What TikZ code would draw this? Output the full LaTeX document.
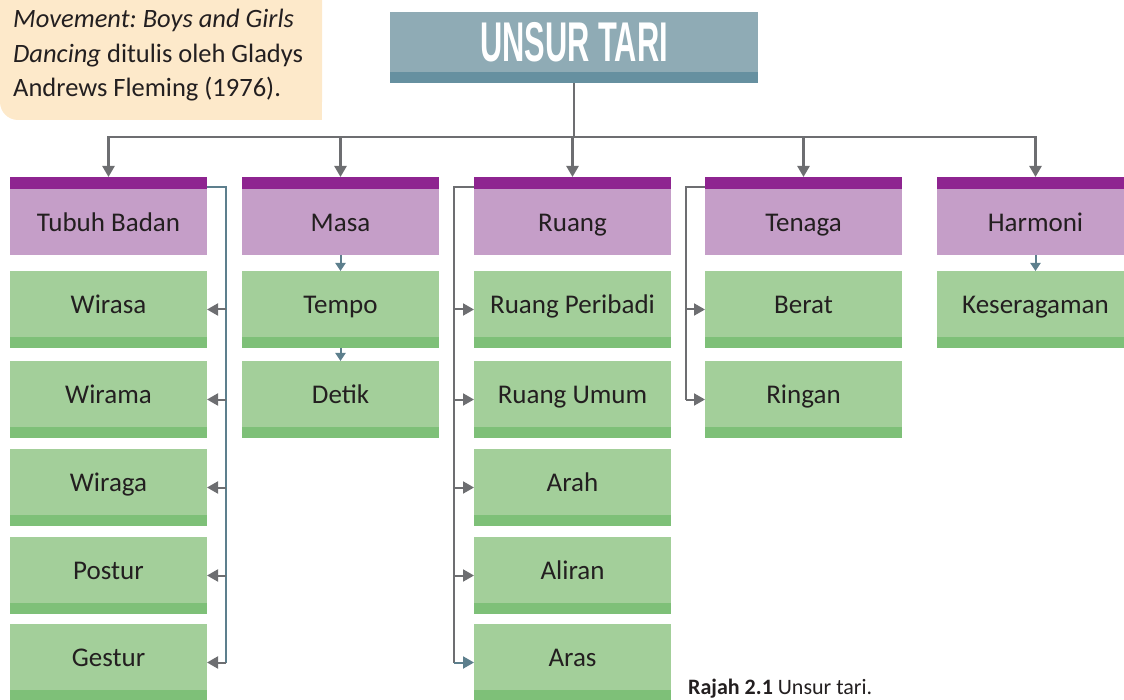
\documentclass[tikz,border=0pt]{standalone}
\usepackage{fontspec}
\setmainfont{Carlito}
\newfontfamily\titlefont{Liberation Sans}
\usetikzlibrary{positioning,arrows.meta}

\definecolor{purpD}{HTML}{8E2490}
\definecolor{purpL}{HTML}{C59EC8}
\definecolor{grnL}{HTML}{A3CF9A}
\definecolor{grnD}{HTML}{7EC078}
\definecolor{titleL}{HTML}{8FABB5}
\definecolor{titleD}{HTML}{6690A0}
\definecolor{notefill}{HTML}{FDE9CA}
\definecolor{lineG}{HTML}{6D6E71}
\definecolor{lineT}{HTML}{5D7F8D}
\definecolor{txt}{HTML}{231F20}

\frenchspacing

\tikzset{
  itembox/.style={rectangle, anchor=north west, inner sep=0pt, outer sep=0pt,
    minimum width=197pt, minimum height=77pt, fill=grnL, text=txt,
    font={\fontsize{27}{27}\selectfont}, text height=17.4pt, text depth=9pt,
    path picture={\fill[grnD] (path picture bounding box.south west)
      rectangle ([yshift=11pt]path picture bounding box.south east);}},
  headbox/.style={rectangle, anchor=north west, inner sep=0pt, outer sep=0pt,
    minimum width=197pt, minimum height=78pt, fill=purpL, text=txt,
    font={\fontsize{27}{27}\selectfont}, text height=30.4pt, text depth=0pt,
    path picture={\fill[purpD] (path picture bounding box.north west)
      rectangle ([yshift=-12pt]path picture bounding box.north east);}},
  titlebox/.style={rectangle, anchor=north west, inner sep=0pt, outer sep=0pt,
    minimum width=368pt, minimum height=71pt, fill=titleL, text=white,
    text height=40pt, text depth=11pt,
    path picture={\fill[titleD] (path picture bounding box.south west)
      rectangle ([yshift=11pt]path picture bounding box.south east);}},
  notetext/.style={anchor=base west, inner sep=0pt, text=txt,
    font={\fontsize{26.5}{26.5}\selectfont}},
  tree/.style={draw=lineG, line width=2.4pt},
  treearr/.style={tree, -{Triangle[length=11pt,width=12pt]}},
  bus/.style={draw=lineG, line width=2pt},
  busT/.style={draw=lineT, line width=2pt},
  busarr/.style={draw=lineG, line width=2pt, -{Triangle[length=11pt,width=12pt]}},
  stub/.style={draw=lineT, line width=2pt, -{Triangle[length=8pt,width=10pt]}}
}

\begin{document}
\begin{tikzpicture}[x=1pt,y=-1pt]

\useasboundingbox (0,0) rectangle (1124,700);
\clip (0,0) rectangle (1124,700);

% note in the corner
\fill[notefill, rounded corners=18pt] (0,-40) rectangle (322,120);
\fill[notefill] (0,-40) rectangle (322,60);
\fill[notefill] (40,-40) rectangle (322,120);

\node[notetext] (note1) at (13,28) {\itshape Movement: Boys and Girls};
\node[notetext] (note2) at (13,63) {\textit{Dancing} ditulis oleh Gladys};
\node[notetext] (note3) at (13,97) {Andrews Fleming (1976).};

% title
\node[titlebox] (title) at (390,12)
 {\scalebox{0.55}[1]{\titlefont\bfseries\fontsize{56}{56}\selectfont UNSUR TARI}};

% the five heads
\foreach \i/\x/\t in {1/10/Tubuh Badan, 2/242/Masa, 3/474/Ruang,
  4/705/Tenaga, 5/937/Harmoni}{
  \node[headbox] (h\i) at (\x,177) {\t};
}

% items
\foreach \n/\x/\y/\t in {w1/10/271/Wirasa, w2/10/361/Wirama, w3/10/449/Wiraga,
  w4/10/537/Postur, w5/10/624/Gestur,
  m1/242/271/Tempo, m2/242/361/Detik,
  r1/474/271/Ruang Peribadi, r2/474/361/Ruang Umum, r3/474/449/Arah,
  r4/474/537/Aliran, r5/474/624/Aras,
  t1/705/271/Berat, t2/705/361/Ringan,
  k1/937/271/Keseragaman}{
  \node[itembox] (\n) at (\x,\y) {\t};
}

% tree from the title
\path (title.south) ++(0,54) coordinate (jn);
\draw[tree] (title.south) -- (jn);
\foreach \i in {1,...,5}
  \draw[treearr] (jn) -| (h\i.north);

% Tubuh Badan
\coordinate (bt) at (226,188);
\draw[busT] ([yshift=-10pt]h1.north east) -| (bt |- w5.east);
\foreach \n in {w1,w2,w3,w4,w5}
  \draw[busarr] (bt |- \n.east) -- (\n.east);

% Masa
\draw[stub] (h2.south) -- (m1.north);
\draw[stub] (m1.south) -- (m2.north);

% Ruang
\coordinate (br) at (454,188);
\draw[bus] ([yshift=-10pt]h3.north west) -| (br |- r5.west);
\foreach \n in {r1,r2,r3,r4}
  \draw[busarr] (br |- \n.west) -- (\n.west);
\draw[busarr, draw=lineT] (br |- r5.west) -- (r5.west);

% Tenaga
\coordinate (bn) at (686,188);
\draw[bus] ([yshift=-10pt]h4.north west) -| (bn |- t2.west);
\foreach \n in {t1,t2}
  \draw[busarr] (bn |- \n.west) -- (\n.west);

% Harmoni
\draw[stub] (h5.south) -- (k1.north);

\node[anchor=base west, inner sep=0pt, text=txt,
 font={\fontsize{22}{22}\selectfont}] (cap) at (688,694)
 {\textbf{Rajah 2.1} Unsur tari.};

\end{tikzpicture}
\end{document}
